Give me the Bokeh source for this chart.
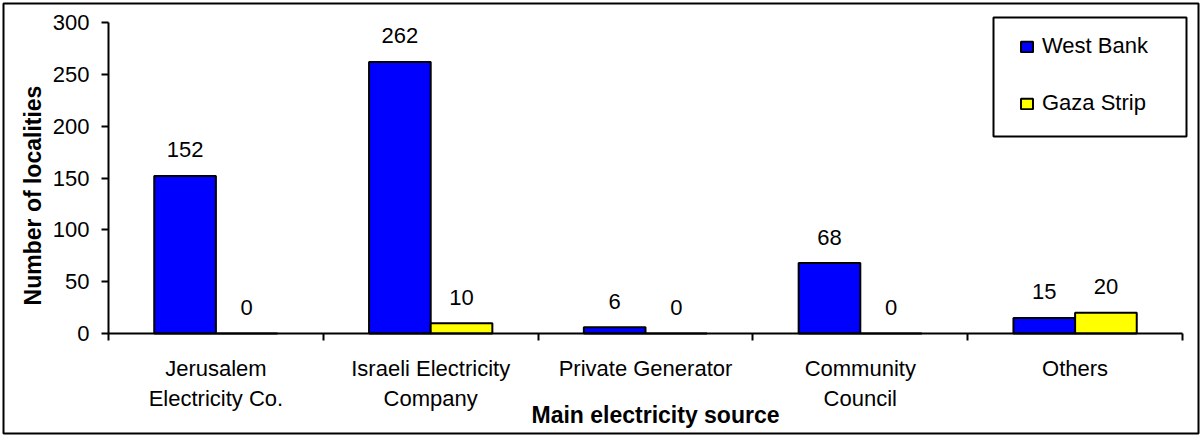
import numpy as np
from math import pi
from bokeh.plotting import figure
from bokeh.models import (ColumnDataSource, FixedTicker, Label, Legend, LegendItem,
                          BoxAnnotation)
from bokeh.core.properties import value
from bokeh.transform import dodge
from bokeh.embed import file_html
from bokeh.resources import INLINE

categories = ["Jerusalem\nElectricity Co.", "Israeli Electricity\nCompany",
              "Private Generator", "Community\nCouncil", "Others"]
west_bank = [152, 262, 6, 68, 15]
gaza = [0, 10, 0, 0, 20]
y_ticks = [0, 50, 100, 150, 200, 250, 300]
series_names = ["West Bank", "Gaza Strip"]
x_title = "Main electricity source"
y_title = "Number of localities"

FONT = "Liberation Sans"

# page layout (pixels): canvas 1201x436, frame inset 3px, axes placed inside frame
W, H, M = 1201, 436, 3
AX_L, AX_R, AX_TOP, AX_BOT = 108, 1182, 22, 333   # plot-area box
n = len(categories)
ymax = y_ticks[-1]
xppu = (AX_R - AX_L) / n
yppu = (AX_BOT - AX_TOP) / ymax
x_start = -(AX_L - M) / xppu
x_end = n + (W - M - AX_R) / xppu
y_end = ymax + (AX_TOP - M) / yppu
y_start = -(H - M - AX_BOT) / yppu


def sx(px):  # absolute px -> screen units relative to frame left
    return px - M


def sy(py):  # absolute px (from top) -> screen units from frame bottom
    return H - M - py


centers = np.arange(n) + 0.5
src = ColumnDataSource(dict(
    x=centers, wb=west_bank, gz=gaza,
    wb_txt=[str(v) for v in west_bank], gz_txt=[str(v) for v in gaza],
))

p = figure(frame_width=W - 2 * M, frame_height=H - 2 * M,
           min_border_left=M, min_border_right=M,
           min_border_top=M, min_border_bottom=M,
           x_range=(x_start, x_end), y_range=(y_start, y_end),
           output_backend="svg", toolbar_location=None,
           background_fill_color="white", border_fill_color="white")
p.outline_line_color = "black"
p.outline_line_width = 2
p.xgrid.visible = False
p.ygrid.visible = False

bw = 0.287
r1 = p.vbar(x=dodge("x", -bw / 2), top="wb", width=bw, source=src,
            fill_color="#0000FF", line_color="black", line_width=2)
r2 = p.vbar(x=dodge("x", bw / 2), top="gz", width=bw, source=src,
            fill_color="#FFFF00", line_color="black", line_width=2)

for col, top, off in (("wb_txt", "wb", -bw / 2), ("gz_txt", "gz", bw / 2)):
    p.text(x=dodge("x", off), y=top, text=col, source=src,
           text_align="center", text_baseline="middle", y_offset=-26,
           text_font=value(FONT), text_font_size="22px", text_color="black")

# x axis
xa = p.xaxis[0]
xa.fixed_location = 0
xa.bounds = (0, n)
xa.ticker = FixedTicker(ticks=list(centers), minor_ticks=list(range(n + 1)))
xa.major_label_overrides = {float(c): lab for c, lab in zip(centers, categories)}
xa.major_tick_out = 0
xa.major_tick_in = 0
xa.minor_tick_out = 7
xa.minor_tick_in = 0
xa.minor_tick_line_color = "black"
xa.minor_tick_line_width = 2
xa.axis_line_color = "black"
xa.axis_line_width = 2
xa.major_label_text_font = FONT
xa.major_label_text_font_size = "22px"
xa.major_label_text_color = "black"
xa.major_label_text_line_height = 1.2
xa.major_label_standoff = 15

# y axis
ya = p.yaxis[0]
ya.fixed_location = 0
ya.bounds = (0, ymax)
ya.ticker = FixedTicker(ticks=y_ticks)
ya.minor_tick_line_color = None
ya.major_tick_out = 7
ya.major_tick_in = 0
ya.major_tick_line_color = "black"
ya.major_tick_line_width = 2
ya.axis_line_color = "black"
ya.axis_line_width = 2
ya.major_label_text_font = FONT
ya.major_label_text_font_size = "22px"
ya.major_label_text_color = "black"
ya.major_label_standoff = 12

# axis titles
p.add_layout(Label(x=sx(32), y=sy(195), x_units="screen", y_units="screen",
                   text=y_title, angle=pi / 2,
                   text_align="center", text_baseline="middle",
                   text_font=FONT, text_font_size="23px", text_font_style="bold",
                   text_color="black"))
p.add_layout(Label(x=sx(655), y=sy(414), x_units="screen", y_units="screen",
                   text=x_title,
                   text_align="center", text_baseline="middle",
                   text_font=FONT, text_font_size="23px", text_font_style="bold",
                   text_color="black"))

# legend box
p.add_layout(BoxAnnotation(left=sx(993), right=sx(1186), top=sy(17), bottom=sy(136),
                           left_units="screen", right_units="screen",
                           top_units="screen", bottom_units="screen",
                           fill_color="white", fill_alpha=1,
                           line_color="black", line_width=2, line_alpha=1))

ROW_H, ROW_GAP = 26, 31
legend = Legend(items=[LegendItem(label=series_names[0], renderers=[r1]),
                       LegendItem(label=series_names[1], renderers=[r2])],
                location=(sx(1019), sy(46 - ROW_H / 2 + 2 * ROW_H + ROW_GAP)))
legend.border_line_color = None
legend.background_fill_alpha = 0
legend.label_text_font = FONT
legend.label_text_font_size = "22px"
legend.label_text_color = "black"
legend.glyph_width = 15
legend.glyph_height = 13
legend.label_height = ROW_H
legend.padding = 0
legend.spacing = ROW_GAP
legend.label_standoff = 8
legend.margin = 0
p.add_layout(legend, "center")

open("out.html", "w").write(file_html(p, INLINE))
